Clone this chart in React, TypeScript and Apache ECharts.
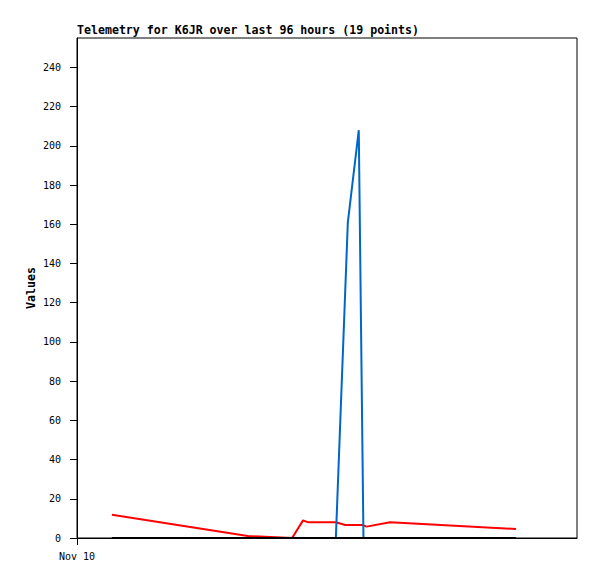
import React, { useEffect, useRef } from "react";
import * as echarts from "echarts";

// Hours since Nov 10 00:00 (axis spans 96 hours)
const redTimes = [6.7, 32.8, 41.3, 43.4, 44.4, 49.7, 51.5, 54.9, 55.6, 60.1, 84.3];
const redValues = [11.9, 1.0, 0, 9.0, 8.0, 8.0, 6.6, 6.6, 5.8, 8.0, 4.6];
const blueTimes = [49.7, 52.0, 54.1, 55.0];
const blueValues = [0, 161, 208, 0];
const blackTimes = [6.7, 84.3];
const blackValues = [0, 0];
const yTicks = [0, 20, 40, 60, 80, 100, 120, 140, 160, 180, 200, 220, 240];
const xTicks = [0];
const xTickLabels = ["Nov 10"];
const titleText = "Telemetry for K6JR over last 96 hours (19 points)";

const FONT = "DejaVu Sans Mono";

function pairs(xs: number[], ys: number[]) {
  return xs.map((x, i) => [x, ys[i]]);
}

export default function App() {
  const ref = useRef<HTMLDivElement>(null);
  useEffect(() => {
    if (!ref.current) return;
    const chart = echarts.init(ref.current, undefined, { renderer: "svg" });
    chart.setOption({
      animation: false,
      backgroundColor: "#ffffff",
      title: {
        text: titleText,
        left: 77,
        top: 24,
        padding: 0,
        textStyle: { fontFamily: FONT, fontSize: 11.6, fontWeight: "bold", color: "#000" },
      },
      grid: {
        left: 77,
        top: 38,
        width: 500,
        height: 500,
        show: true,
        borderColor: "#000",
        borderWidth: 1,
        backgroundColor: "transparent",
      },
      xAxis: {
        type: "value",
        min: 0,
        max: 96,
        axisLine: { show: true, onZero: false, lineStyle: { color: "#000", width: 1 } },
        axisTick: { show: true, length: 7, customValues: xTicks, lineStyle: { color: "#000" } },
        axisLabel: {
          customValues: xTicks,
          formatter: (v: number) => {
            const i = xTicks.indexOf(v);
            return i >= 0 ? xTickLabels[i] : "";
          },
          fontFamily: FONT,
          fontSize: 10,
          color: "#000",
          margin: 13,
        },
        splitLine: { show: false },
      },
      yAxis: {
        type: "value",
        min: 0,
        max: 255,
        name: "Values",
        nameLocation: "middle",
        nameGap: 40,
        nameRotate: 90,
        nameMoveOverlap: false,
        nameTextStyle: { fontFamily: FONT, fontSize: 11.6, fontWeight: "bold", color: "#000" },
        axisLine: { show: true, lineStyle: { color: "#000", width: 1 } },
        axisTick: { show: true, length: 7, customValues: yTicks, lineStyle: { color: "#000" } },
        axisLabel: {
          customValues: yTicks,
          fontFamily: FONT,
          fontSize: 10,
          color: "#000",
          margin: 16,
        },
        splitLine: { show: false },
      },
      series: [
        {
          type: "line",
          data: pairs(redTimes, redValues),
          showSymbol: false,
          symbol: "none",
          lineStyle: { color: "#ff0000", width: 2 },
          z: 2,
        },
        {
          type: "line",
          data: pairs(blueTimes, blueValues),
          showSymbol: false,
          symbol: "none",
          lineStyle: { color: "#0066cc", width: 2 },
          z: 3,
        },
        {
          type: "line",
          data: pairs(blackTimes, blackValues),
          showSymbol: false,
          symbol: "none",
          lineStyle: { color: "#000000", width: 2 },
          z: 4,
        },
      ],
    });
    return () => chart.dispose();
  }, []);
  return (
    <div
      ref={ref}
      style={{ position: "fixed", left: 0, top: 0, width: 597, height: 579, background: "#fff" }}
    />
  );
}
